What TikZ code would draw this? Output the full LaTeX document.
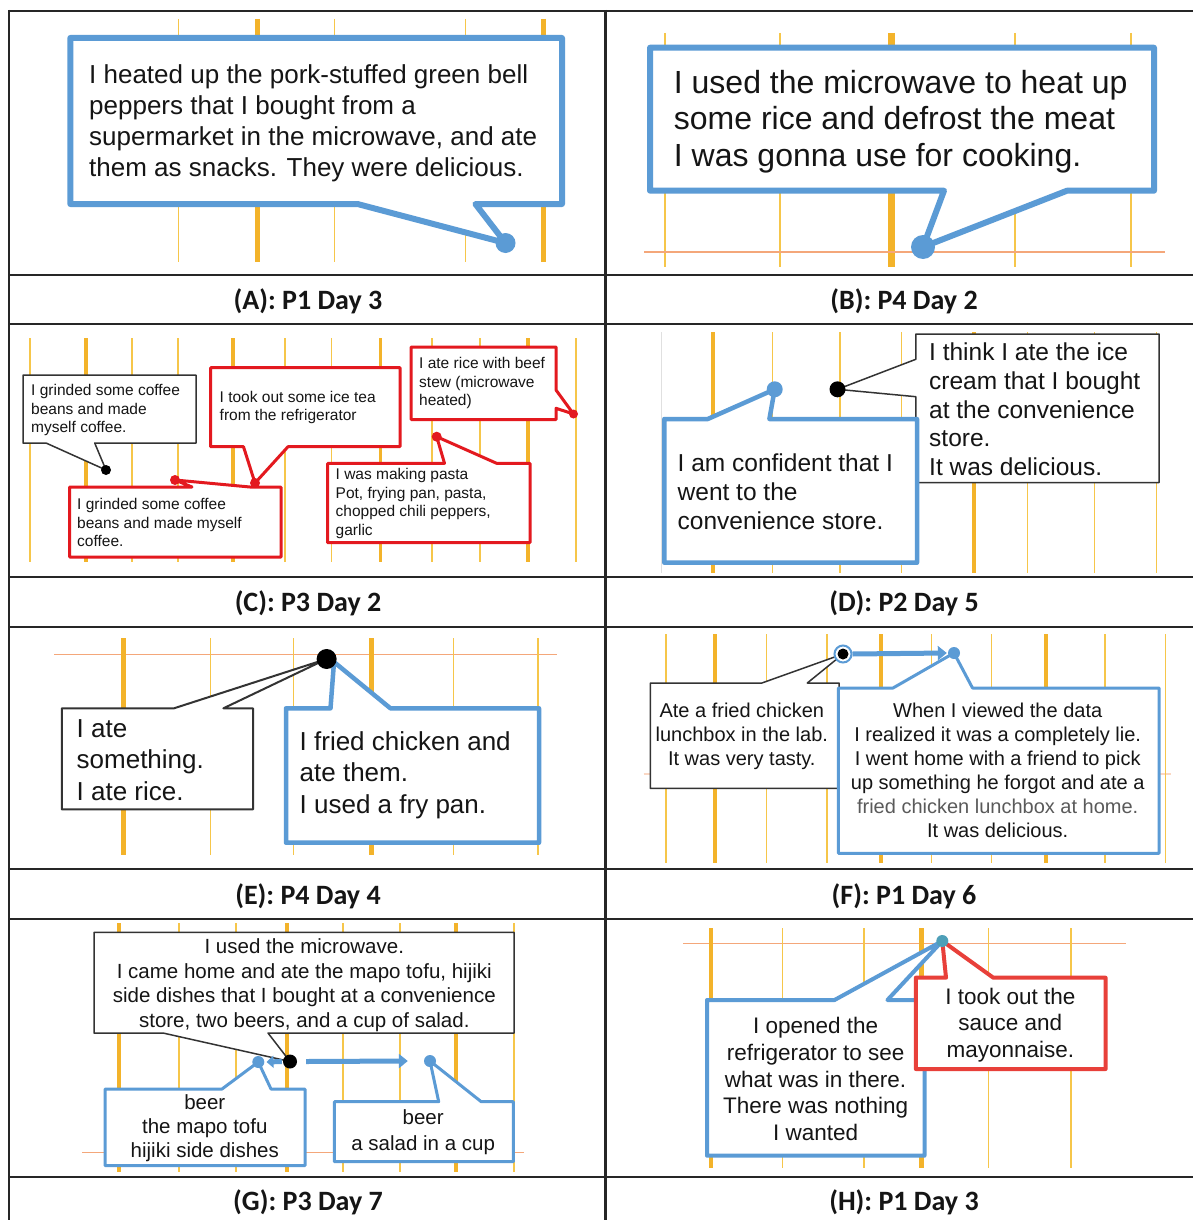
\documentclass[tikz,border=0pt]{standalone}
\usepackage{fontspec}
\setmainfont{Liberation Sans}
\newfontfamily\labfont{Carlito}
\usetikzlibrary{arrows.meta}
\definecolor{cblue}{HTML}{5B9BD5}
\definecolor{cred}{HTML}{E3191F}
\definecolor{credh}{HTML}{E8403A}
\definecolor{gthick}{HTML}{F3B32A}
\definecolor{gthin}{HTML}{F6C64A}
\definecolor{hlc}{HTML}{F4A77A}
\definecolor{txtc}{HTML}{151515}
\definecolor{graytxt}{HTML}{5A5A5A}
\definecolor{tealdot}{HTML}{4E9FB8}
\newcommand\cobot[8]{\draw[#1] (#2,#3) -- (#4,#3) -- (#4,#5) -- (#7,#5) -- (#8) -- (#6,#5) -- (#2,#5) -- cycle;}
\newcommand\cotop[8]{\draw[#1] (#2,#3) -- (#6,#3) -- (#8) -- (#7,#3) -- (#4,#3) -- (#4,#5) -- (#2,#5) -- cycle;}
\newcommand\coright[8]{\draw[#1] (#2,#3) -- (#4,#3) -- (#4,#6) -- (#8) -- (#4,#7) -- (#4,#5) -- (#2,#5) -- cycle;}
\newcommand\coleft[8]{\draw[#1] (#2,#3) -- (#4,#3) -- (#4,#5) -- (#2,#5) -- (#2,#7) -- (#8) -- (#2,#6) -- cycle;}
\newcommand\vlines[4]{\foreach \xx in {#4} \draw[#1] (\xx,#2) -- (\xx,#3);}
\begin{document}
\begin{tikzpicture}[x=1pt,y=-1pt,
  tab/.style={black!85, line width=2.2},
  lab/.style={font=\labfont\bfseries\fontsize{28}{31}\selectfont, inner sep=0, text=txtc},
  thinv/.style={gthin, line width=1.4},
  thickv/.style={gthick, line width=#1},
  hl/.style={hlc, line width=1.5},
  bluebox/.style={draw=cblue, line width=#1, fill=white, line join=round},
  redbox/.style={draw=cred, line width=#1, fill=white, line join=round},
  redboxh/.style={draw=credh, line width=#1, fill=white, line join=round},
  blkbox/.style={draw=black!80, line width=#1, fill=white, line join=round},
  dotc/.style={circle, fill=#1, inner sep=0},
  txt/.style={inner sep=0, text=txtc, align=left, anchor=west},
  ctxt/.style={inner sep=0, text=txtc, align=center, anchor=center},
  barrow/.style={cblue, line width=5, -{Triangle[length=9pt,width=14pt]}}
]
\useasboundingbox (0,0) rectangle (1193,1220);
\fill[white] (0,0) rectangle (1193,1220);

% table
\foreach \yy in {11,275,324,577,627,869,919,1177} \draw[tab] (8,\yy) -- (1193,\yy);
\draw[tab] (9,10) -- (9,1220);
\draw[tab] (605.5,10) -- (605.5,1220);

\node[lab] (lA) at (308,301) {(A): P1 Day 3};
\node[lab] (lB) at (904,301) {(B): P4 Day 2};
\node[lab] (lC) at (308,603) {(C): P3 Day 2};
\node[lab] (lD) at (904,603) {(D): P2 Day 5};
\node[lab] (lE) at (308,896) {(E): P4 Day 4};
\node[lab] (lF) at (904,896) {(F): P1 Day 6};
\node[lab] (lG) at (308,1202) {(G): P3 Day 7};
\node[lab] (lH) at (904,1202) {(H): P1 Day 3};

% ---------- A
\vlines{thinv}{19}{262}{178.6,334.7,465.7}
\vlines{thickv=5}{19}{262}{257.4,543}
\coordinate (pA) at (505.5,243);
\cobot{bluebox=6}{70.3}{38}{562}{204}{357.5}{475.4}{pA}
\node[dotc=cblue, minimum size=20] (dA) at (pA) {};
\node[txt, font=\fontsize{26}{31}\selectfont] (tA) at (89,123.5) {I heated up the pork-stuffed green bell\\peppers that I bought from a\\supermarket in the microwave, and ate\\them as snacks. They were delicious.};

% ---------- B
\vlines{thinv, line width=1.8}{33}{267}{665,779.6,1014.9,1130.6}
\vlines{thickv=7}{33}{267}{891}
\draw[hl] (644,252) -- (1164.6,252);
\coordinate (pB) at (923,247);
\cobot{bluebox=6}{650}{47.7}{1154}{190.7}{944}{1067}{pB}
\node[dotc=cblue, minimum size=24] (dB) at (pB) {};
\node[txt, font=\fontsize{32}{36.7}\selectfont] (tB) at (673.7,121.7) {I used the microwave to heat up\\some rice and defrost the meat\\I was gonna use for cooking.};

% ---------- C
\vlines{thinv}{338}{562}{30,132,177.8,285,331.6,432,480,576}
\vlines{thickv=3.5}{338}{562}{85.8,233,380.7,528}
\coordinate (pC1) at (106,470);
\cobot{blkbox=1.5}{23}{375}{196}{443}{46}{94.7}{pC1}
\node[txt, font=\fontsize{15.5}{18.4}\selectfont] (tC1) at (31,410) {I grinded some coffee\\beans and made\\myself coffee.};
\coordinate (pC3) at (255,483);
\cobot{redbox=3}{210.6}{367.7}{400}{446.7}{243.5}{288}{pC3}
\node[txt, font=\fontsize{15.5}{18.4}\selectfont] (tC3) at (219.5,407.5) {I took out some ice tea\\from the refrigerator};
\coordinate (pC2) at (175,480);
\cotop{redbox=3}{69.6}{487}{281}{557}{192}{250}{pC2}
\node[txt, font=\fontsize{15.5}{18.4}\selectfont] (tC2) at (77,522.7) {I grinded some coffee\\beans and made myself\\coffee.};
\coordinate (pC4) at (573.5,414);
\coright{redbox=3}{411}{347}{556}{419.5}{390}{408.3}{pC4}
\node[txt, font=\fontsize{15.5}{18.4}\selectfont] (tC4) at (419,383) {I ate rice with beef\\stew (microwave\\heated)};
\coordinate (pC5) at (436.7,436.7);
\cotop{redbox=3}{327.7}{463.3}{530}{542.7}{444.5}{496.6}{pC5}
\node[txt, font=\fontsize{15.5}{18.6}\selectfont] (tC5) at (335.5,503.5) {I was making pasta\\Pot, frying pan, pasta,\\chopped chili peppers,\\garlic};
\node[dotc=black, minimum size=10] (dC1) at (pC1) {};
\node[dotc=cred, minimum size=10] (dC2) at (pC2) {};
\node[dotc=cred, minimum size=10] (dC3) at (pC3) {};
\node[dotc=cred, minimum size=9] (dC4) at (pC4) {};
\node[dotc=cred, minimum size=10] (dC5) at (pC5) {};

% ---------- D
\vlines{black!12, line width=1}{332}{573}{661}
\vlines{thinv}{332}{573}{772.5,840,901.4,1027.4,1094.7,1156.7}
\vlines{thickv=4}{332}{573}{712.7,973.7}
\coordinate (pD2) at (837.5,389.3);
\coleft{blkbox=1.5}{915.8}{334}{1159}{482.7}{359.3}{396.7}{pD2}
\node[txt, font=\fontsize{24.5}{28.75}\selectfont] (tD2) at (929,409.3) {I think I ate the ice\\cream that I bought\\at the convenience\\store.\\It was delicious.};
\coordinate (pD1) at (774.7,389.3);
\cotop{bluebox=4.5}{664.3}{419}{917}{562.7}{707.8}{769.4}{pD1}
\node[txt, font=\fontsize{24.5}{29}\selectfont] (tD1) at (677.5,491.7) {I am confident that I\\went to the\\convenience store.};
\node[dotc=cblue, minimum size=16] (dD1) at (pD1) {};
\node[dotc=black, minimum size=16] (dD2) at (pD2) {};

% ---------- E
\draw[hl] (54,654.3) -- (556.6,654.3);
\vlines{thinv}{638}{855}{210.6,293.7,453.4,538}
\vlines{thickv=5}{638}{855}{123.7,371.8}
\coordinate (pE) at (326.6,659);
\coordinate (pE2) at (334,662);
\cotop{blkbox=2}{61.8}{708.3}{253}{809.3}{174}{223.4}{pE}
\cotop{bluebox=4.5}{286}{708.3}{539}{842.7}{330.5}{390.4}{pE2}
\node[dotc=black, minimum size=20] (dE) at (pE) {};
\node[txt, font=\fontsize{26}{31.7}\selectfont] (tE1) at (76.5,760) {I ate\\something.\\I ate rice.};
\node[txt, font=\fontsize{26}{31.7}\selectfont] (tE2) at (299.5,775) {I fried chicken and\\ate them.\\I used a fry pan.};

% ---------- F
\draw[hl, opacity=.45] (643.5,774) -- (1171,774);
\vlines{thinv}{634}{862.7}{666,766.4,827,931.7,991.4,1104.9,1165.4}
\vlines{thickv=4}{634}{862.7}{715.4,880.6,1046.3}
\coordinate (pF1) at (843,654);
\coordinate (pF2) at (954,653);
\cotop{blkbox=1.5}{650.3}{683}{839}{788.3}{761.9}{807.3}{pF1}
\cotop{bluebox=3}{838.3}{688}{1159}{853.3}{893}{972.5}{pF2}
\node[circle, draw=cblue, line width=2, fill=white, minimum size=17, inner sep=0] (rF) at (pF1) {};
\node[dotc=black, minimum size=11] (dF1) at (pF1) {};
\node[dotc=cblue, minimum size=12] (dF2) at (pF2) {};
\draw[barrow] (rF.east) -- ([xshift=-1pt]dF2.west);
\node[ctxt, font=\fontsize{20}{23.7}\selectfont] (tF1) at (741.8,736.3) {Ate a fried chicken\\lunchbox in the lab.\\It was very tasty.};
\node[ctxt, font=\fontsize{20}{24}\selectfont] (tF2) at (997.7,770.8) {When I viewed the data\\I realized it was a completely lie.\\I went home with a friend to pick\\up something he forgot and ate a\\\textcolor{graytxt}{fried chicken lunchbox at home.}\\It was delicious.};

% ---------- G
\draw[hl] (82,1152.3) -- (523.7,1152.3);
\vlines{thinv}{923}{1171.7}{179,235.8,343,400,514}
\vlines{thickv=4}{923}{1171.7}{119,286.8,456}
\coordinate (pG) at (290,1061.5);
\coordinate (pG1) at (258.3,1062);
\coordinate (pG2) at (430,1061);
\cobot{blkbox=1.5}{94}{932.3}{514}{1033}{163}{268}{pG}
\cotop{bluebox=3}{105}{1089}{305}{1165.7}{222}{271}{pG1}
\cotop{bluebox=3}{334.3}{1101.7}{513.3}{1161.7}{438.7}{481.2}{pG2}
\node[dotc=black, minimum size=14] (dG) at (pG) {};
\node[dotc=cblue, minimum size=12] (dG1) at (pG1) {};
\node[dotc=cblue, minimum size=12] (dG2) at (pG2) {};
\draw[cblue, line width=5, -{Triangle[length=7pt,width=12pt]}] ([xshift=-1pt]dG.west) -- ([xshift=2pt]dG1.east);
\draw[barrow] ([xshift=9pt]dG.east) -- ([xshift=-16pt]dG2.west);
\node[ctxt, font=\fontsize{20.5}{24.5}\selectfont] (tG) at (304.3,985) {I used the microwave.\\I came home and ate the mapo tofu, hijiki\\side dishes that I bought at a convenience\\store, two beers, and a cup of salad.};
\node[ctxt, font=\fontsize{20.5}{24}\selectfont] (tG1) at (204.8,1128.3) {beer\\the mapo tofu\\hijiki side dishes};
\node[ctxt, font=\fontsize{20.5}{26}\selectfont] (tG2) at (423.2,1132) {beer\\a salad in a cup};

% ---------- H
\draw[hl] (683,943.3) -- (1125.7,943.3);
\vlines{thinv}{928}{1168}{782.3,864,988.4,1070.9}
\vlines{thickv=4.5}{928}{1168}{710.8,921.5}
\coordinate (pH) at (942.3,941);
\cotop{bluebox=4}{707}{1000}{924.5}{1155.7}{834.5}{887.4}{pH}
\cotop{redboxh=4}{915.8}{977.7}{1105.6}{1069}{946}{993.3}{pH}
\node[dotc=tealdot, minimum size=12] (dH) at (pH) {};
\node[ctxt, font=\fontsize{22.5}{26.7}\selectfont] (tH1) at (815.6,1079) {I opened the\\refrigerator to see\\what was in there.\\There was nothing\\I wanted};
\node[ctxt, font=\fontsize{22.5}{26.7}\selectfont] (tH2) at (1010.3,1025) {I took out the\\sauce and\\mayonnaise.};
\end{tikzpicture}
\end{document}
